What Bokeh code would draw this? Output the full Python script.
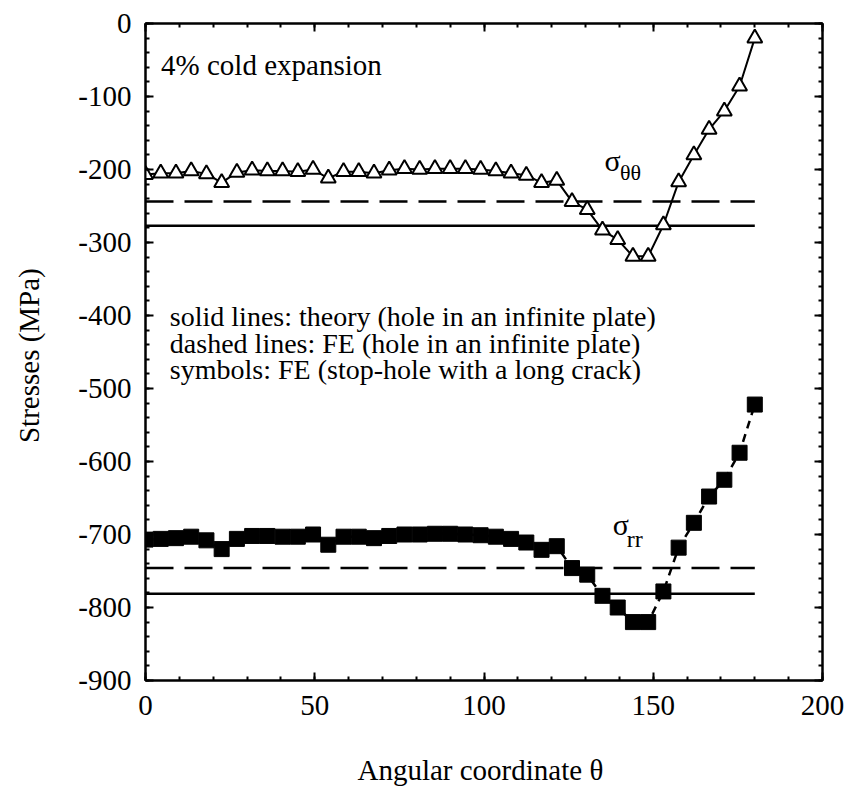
from bokeh.plotting import figure
from bokeh.models import (LinearAxis, Range1d, Label, SingleIntervalTicker,
                          CustomJSTickFormatter)
from bokeh.embed import file_html
from bokeh.resources import INLINE

# Angular positions around the stop-hole (degrees)
theta = [0, 4.5, 9, 13.5, 18, 22.5, 27, 31.5, 36, 40.5, 45, 49.5, 54, 58.5,
         63, 67.5, 72, 76.5, 81, 85.5, 90, 94.5, 99, 103.5, 108, 112.5, 117,
         121.5, 126, 130.5, 135, 139.5, 144, 148.5, 153, 157.5, 162, 166.5,
         171, 175.5, 180]

# FE hoop stress, stop-hole with a long crack (MPa)
sigma_tt = [-207, -205, -205, -202, -206, -218, -204, -201, -202, -202, -203,
            -200, -212, -203, -203, -205, -201, -199, -200, -199, -199, -199,
            -200, -202, -205, -208, -218, -215, -244, -255, -283, -296, -319,
            -319, -276, -217, -180, -145, -120, -86, -20]

# FE radial stress, stop-hole with a long crack (MPa)
sigma_rr = [-707, -706, -705, -703, -708, -720, -706, -702, -702, -703, -703,
            -700, -714, -703, -703, -705, -702, -700, -700, -699, -699, -700,
            -701, -703, -706, -711, -721, -716, -746, -755, -784, -800, -820,
            -820, -778, -718, -684, -648, -625, -588, -522]

# Hole in an infinite plate: theory and FE levels (MPa)
theory_tt = -277
fe_tt = -244
theory_rr = -781
fe_rr = -746

FONT = "serif"

p = figure(width=848, height=788, output_backend="svg", toolbar_location=None,
           x_range=Range1d(0, 200), y_range=Range1d(-900, 0),
           min_border_left=145, min_border_right=26, min_border_top=23,
           min_border_bottom=106)
p.background_fill_color = "white"
p.border_fill_color = "white"
p.xgrid.grid_line_color = None
p.ygrid.grid_line_color = None
p.outline_line_color = "black"
p.outline_line_width = 2

plain_numbers = CustomJSTickFormatter(code="return tick.toFixed(0);")
no_labels = CustomJSTickFormatter(code="return '';")


def style_axis(ax):
    ax.axis_line_width = 2
    ax.axis_line_color = "black"
    ax.major_tick_in = 8
    ax.major_tick_out = 0
    ax.minor_tick_in = 4
    ax.minor_tick_out = 0
    ax.major_tick_line_width = 2
    ax.minor_tick_line_width = 2
    ax.major_label_text_font = FONT
    ax.major_label_text_color = "black"
    ax.major_label_text_font_size = "29px"
    ax.axis_label_text_font = FONT
    ax.axis_label_text_font_style = "normal"
    ax.axis_label_text_color = "black"
    ax.axis_label_text_font_size = "29px"


p.xaxis.ticker = SingleIntervalTicker(interval=50, num_minor_ticks=5)
p.yaxis.ticker = SingleIntervalTicker(interval=100, num_minor_ticks=5)
style_axis(p.xaxis[0])
style_axis(p.yaxis[0])
p.xaxis.formatter = plain_numbers
p.yaxis.formatter = plain_numbers
p.xaxis.major_label_standoff = 15
p.yaxis.major_label_standoff = 14
p.xaxis.axis_label = "Angular coordinate  θ"
p.xaxis.axis_label_standoff = 36
p.yaxis.axis_label = "Stresses  (MPa)"
p.yaxis.axis_label_standoff = 30

# Mirror ticks on the top and right edges of the frame
top_axis = LinearAxis(ticker=SingleIntervalTicker(interval=50, num_minor_ticks=5),
                      formatter=no_labels, major_label_standoff=0)
right_axis = LinearAxis(ticker=SingleIntervalTicker(interval=100, num_minor_ticks=5),
                        formatter=no_labels, major_label_standoff=0)
style_axis(top_axis)
style_axis(right_axis)
p.add_layout(top_axis, "above")
p.add_layout(right_axis, "right")

# Reference levels for the hole in an infinite plate
span = [theta[0], theta[-1]]
p.line(span, [theory_tt, theory_tt], line_color="black", line_width=2.5)
p.line(span, [fe_tt, fe_tt], line_color="black", line_width=2.5, line_dash="28 11")
p.line(span, [theory_rr, theory_rr], line_color="black", line_width=2.5)
p.line(span, [fe_rr, fe_rr], line_color="black", line_width=2.5, line_dash="28 11")

# Stop-hole FE results
p.line(theta, sigma_tt, line_color="black", line_width=2)
p.scatter(theta, sigma_tt, marker="triangle", size=15, line_color="black",
          line_width=2, fill_color="white")
p.line(theta, sigma_rr, line_color="black", line_width=2.5, line_dash="8 6")
p.scatter(theta, sigma_rr, marker="square", size=15, line_color="black",
          line_width=1, fill_color="black")


def add_text(x, y, text, size):
    p.add_layout(Label(x=x, y=y, text=text, text_font=FONT, text_font_size=size,
                       text_color="black", text_baseline="alphabetic",
                       text_align="left"))


add_text(4.6, -57, "4% cold expansion", "29px")
add_text(7.2, -402, "solid lines: theory (hole in an infinite plate)", "28px")
add_text(7.2, -438, "dashed lines: FE (hole in an infinite plate)", "28px")
add_text(7.2, -474, "symbols: FE (stop-hole with a long crack)", "28px")

add_text(135.6, -187, "σ", "30px")
add_text(140.2, -204, "θθ", "22px")
add_text(138.0, -686, "σ", "30px")
add_text(142.2, -706, "rr", "24px")

open("out.html", "w").write(file_html(p, INLINE))
